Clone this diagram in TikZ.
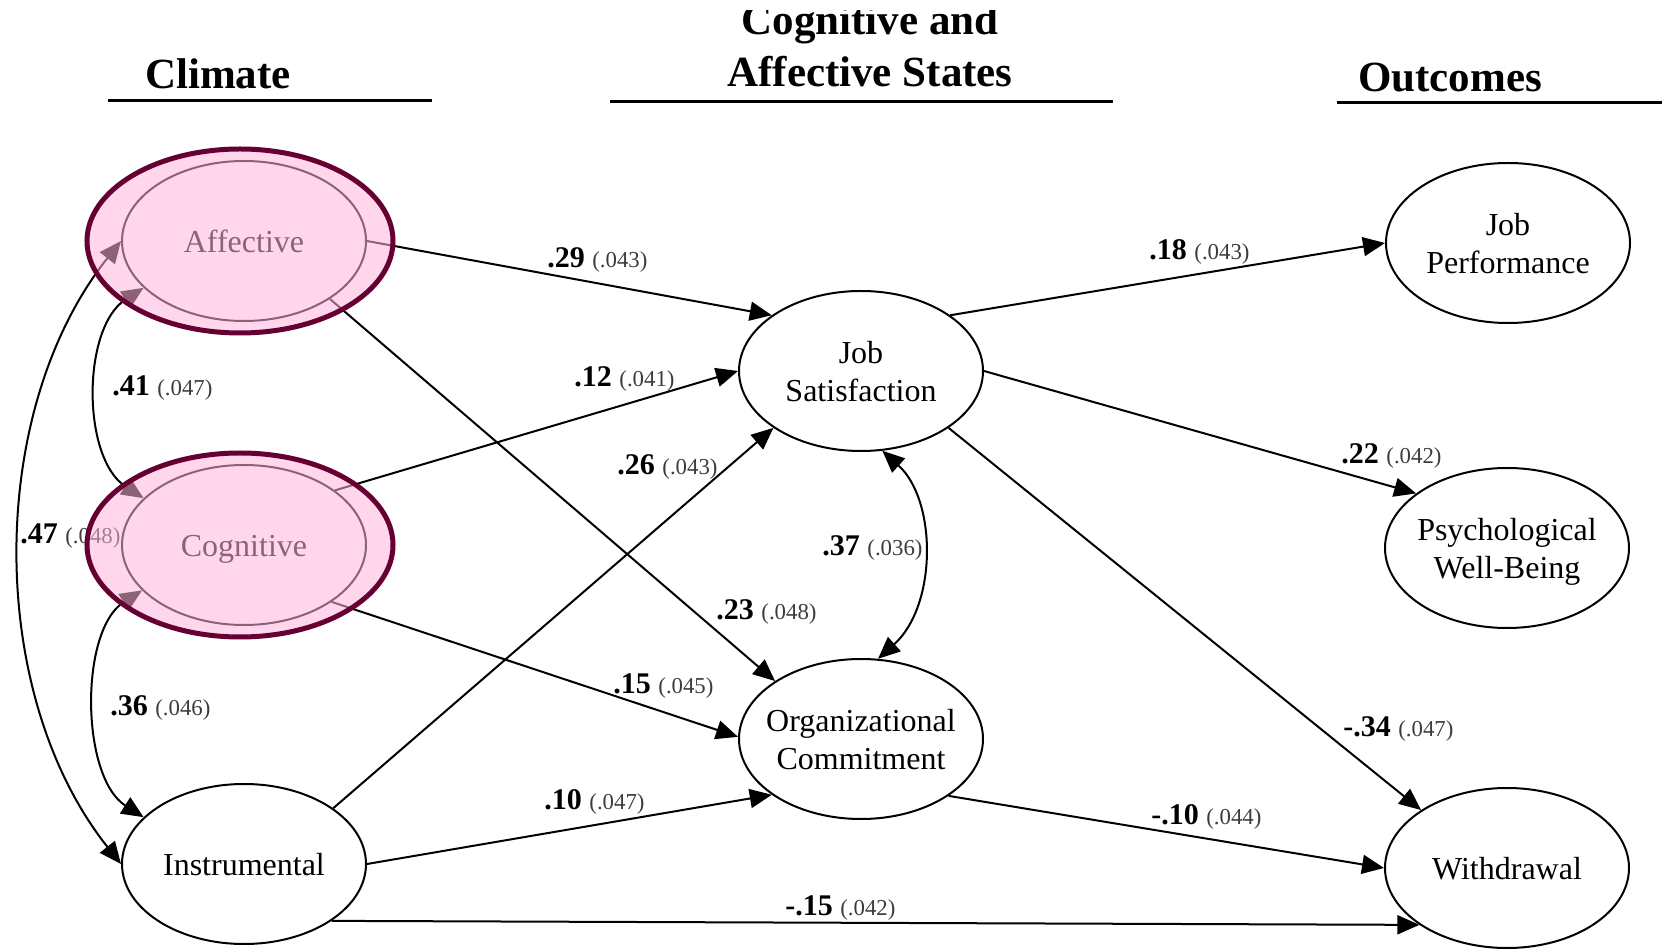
\documentclass[tikz,border=0pt]{standalone}
\usepackage{fontspec}
\setmainfont{Liberation Serif}
\usetikzlibrary{arrows.meta,shapes.geometric}

\definecolor{hlfill}{RGB}{255,180,220}
\definecolor{hldraw}{RGB}{102,0,51}
\definecolor{segray}{RGB}{60,60,60}

% path coefficient with its standard error
\newcommand\coef[2]{{\bfseries #1} {\fontsize{11.4}{13}\selectfont\color{segray}(#2)}}
% centred (possibly two-line) variable name, set a little below the centre
\newcommand\lv[1]{\makebox[0pt]{\raisebox{-6.1pt}[0pt][0pt]{\begin{tabular}{@{}c@{}}#1\end{tabular}}}}

\begin{document}
\begin{tikzpicture}[x=0.5pt,y=-0.5pt,
  latent/.style={ellipse, draw, line width=1pt, inner sep=0pt,
    minimum width=122pt, minimum height=80pt,
    font=\fontsize{16}{19}\selectfont},
  head/.style={inner sep=0pt, font=\fontsize{21.5}{25}\selectfont\bfseries},
  rulebar/.style={line width=1.5pt},
  lab/.style={anchor=base west, inner sep=0pt, font=\fontsize{15}{18}\selectfont},
  tip/.tip={Triangle[length=11pt,width=9.5pt]},
  path/.style={-tip, line width=1pt},
  cov/.style={tip-tip, line width=1pt},
  highlight/.style={ellipse, draw=hldraw, line width=2.5pt, fill=hlfill,
    fill opacity=0.55, draw opacity=1, inner sep=0pt,
    minimum width=153pt, minimum height=92pt}]

\useasboundingbox (0,0) rectangle (1665,951);

% column headings
\begin{scope}
  \clip (0,11) rectangle (1665,951);
  \node[head, anchor=base] (hcog) at (870,35) {Cognitive and};
\end{scope}
\node[head, anchor=base] (haff) at (870,87) {Affective States};
\node[head, anchor=base] (hclim) at (218,89) {Climate};
\node[head, anchor=base] (hout) at (1450,92) {Outcomes};
\draw[rulebar] (108,101) -- (432,101);
\draw[rulebar] (610,102) -- (1113,102);
\draw[rulebar] (1337,103) -- (1662,103);

% latent variables
\node[latent] (aff) at (244,241) {\lv{Affective}};
\node[latent] (cog) at (244,545) {\lv{Cognitive}};
\node[latent] (ins) at (244,864) {\lv{Instrumental}};
\node[latent] (js)  at (861,371) {\lv{Job\\Satisfaction}};
\node[latent] (oc)  at (861,739) {\lv{Organizational\\Commitment}};
\node[latent] (jp)  at (1508,243) {\lv{Job\\Performance}};
\node[latent] (pwb) at (1507,548) {\lv{Psychological\\Well-Being}};
\node[latent] (wd)  at (1507,868) {\lv{Withdrawal}};

% structural paths
\draw[path] (aff.0)   -- (js.148);
\draw[path] (aff.-34) -- (oc.146);
\draw[path] (cog.31)  -- (js.180);
\draw[path] (cog.-33) -- (oc.179);
\draw[path] (ins.32)  -- (js.213);
\draw[path] (ins.0)   -- (oc.212);
\draw[path] (ins.-33) -- (wd.213);
\draw[path] (js.32)   -- (jp.180);
\draw[path] (js.0)    -- (pwb.149);
\draw[path] (js.-33)  -- (wd.146);
\draw[path] (oc.-33)  -- (wd.180);

% correlations
\draw[cov] (js.-75) .. controls +(55,50) and +(59,-53) .. (oc.78);
\draw[cov] (aff.205) .. controls +(-62,40) and +(-62,-40) .. (cog.155);
\draw[cov] (cog.204) .. controls +(-63,40) and +(-63,-40) .. (ins.155);
\draw[cov] (aff.180) .. controls +(-135,170) and +(-135,-170) .. (ins.180);

% coefficients
\node[lab] (c29)  at (547,268)  {\coef{.29}{.043}};
\node[lab] (c12)  at (574,387)  {\coef{.12}{.041}};
\node[lab] (c26)  at (617,475)  {\coef{.26}{.043}};
\node[lab] (c23)  at (716,619)  {\coef{.23}{.048}};
\node[lab] (c15)  at (613,693)  {\coef{.15}{.045}};
\node[lab] (c10)  at (544,809)  {\coef{.10}{.047}};
\node[lab] (cm15) at (785,915)  {\coef{-.15}{.042}};
\node[lab] (c41)  at (112,396)  {\coef{.41}{.047}};
\node[lab] (c36)  at (110,715)  {\coef{.36}{.046}};
\node[lab] (c47)  at (20,544)   {\coef{.47}{.048}};
\node[lab] (c37)  at (822,556)  {\coef{.37}{.036}};
\node[lab] (c18)  at (1149,260) {\coef{.18}{.043}};
\node[lab] (c22)  at (1341,464) {\coef{.22}{.042}};
\node[lab] (cm34) at (1343,736) {\coef{-.34}{.047}};
\node[lab] (cm10) at (1151,824) {\coef{-.10}{.044}};

% emphasis on the affective and cognitive climate factors
\node[highlight] (hlaff) at (240,241) {};
\node[highlight] (hlcog) at (240,545) {};

\end{tikzpicture}
\end{document}
